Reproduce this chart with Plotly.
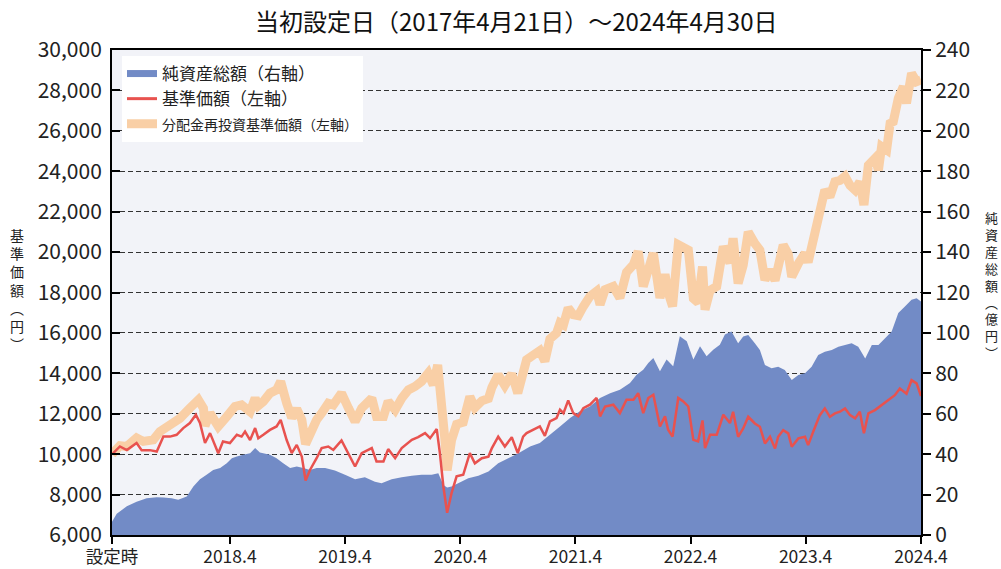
import plotly.graph_objects as go

# ---------------- data ----------------
# 基準価額 (left axis, 円)
base_dates = [
    "2017-04-21", "2017-04-25", "2017-05-16", "2017-06-07", "2017-07-08", "2017-07-24", "2017-08-19",
    "2017-09-10", "2017-10-01", "2017-10-22", "2017-11-12", "2017-12-03", "2017-12-24",
    "2018-01-12", "2018-01-25", "2018-02-10", "2018-02-26", "2018-03-24", "2018-04-08", "2018-04-30",
    "2018-05-22", "2018-06-06", "2018-06-17", "2018-07-03", "2018-07-19", "2018-07-29", "2018-08-14",
    "2018-09-04", "2018-09-25", "2018-10-08", "2018-10-27", "2018-11-12", "2018-11-28", "2018-12-14",
    "2018-12-26", "2019-01-09", "2019-01-30",
    "2019-02-15", "2019-03-08", "2019-03-24", "2019-04-19", "2019-05-11", "2019-06-01", "2019-06-22",
    "2019-07-24", "2019-08-08", "2019-08-30", "2019-09-14", "2019-10-06", "2019-10-27", "2019-11-28",
    "2019-12-18", "2020-01-09", "2020-01-25", "2020-02-15", "2020-02-25", "2020-03-07", "2020-03-19",
    "2020-04-02", "2020-04-18", "2020-05-09", "2020-05-30", "2020-06-15", "2020-07-07", "2020-07-28",
    "2020-08-08", "2020-08-28", "2020-09-18", "2020-10-10", "2020-10-29",
    "2020-11-15", "2020-11-26", "2020-12-17", "2021-01-07", "2021-01-23", "2021-02-08", "2021-03-01",
    "2021-03-12", "2021-03-23", "2021-04-07", "2021-04-23", "2021-05-09", "2021-05-25", "2021-06-15",
    "2021-07-06", "2021-07-17", "2021-08-02", "2021-08-28", "2021-09-18", "2021-10-09", "2021-10-31",
    "2021-11-15", "2021-12-01", "2021-12-17", "2022-01-02", "2022-01-23", "2022-02-08", "2022-02-18",
    "2022-03-04", "2022-03-22", "2022-04-07", "2022-04-23", "2022-05-09", "2022-05-24", "2022-06-07",
    "2022-06-15", "2022-07-01", "2022-07-22", "2022-08-12", "2022-09-02",
    "2022-09-12", "2022-09-28", "2022-10-14", "2022-10-30", "2022-11-20", "2022-12-06", "2022-12-22",
    "2023-01-07", "2023-01-23", "2023-02-02", "2023-02-18", "2023-03-06", "2023-03-17", "2023-04-07",
    "2023-04-28", "2023-05-08", "2023-05-24", "2023-06-14", "2023-06-30", "2023-07-16", "2023-08-01",
    "2023-08-17", "2023-09-02", "2023-09-18", "2023-10-04", "2023-10-19", "2023-11-01", "2023-11-15",
    "2023-12-06", "2023-12-27", "2024-01-17", "2024-02-07", "2024-02-23", "2024-03-15", "2024-03-31",
    "2024-04-16", "2024-04-30",
]
base_values = [
    10000, 10050, 10380, 10200, 10550, 10200, 10200,
    10130, 10870, 10870, 10960, 11290, 11540,
    11950, 11540, 10550, 11040, 10050, 10630, 10550,
    10960, 10870, 11120, 10700, 11290, 10790, 10960,
    11200, 11370, 11700, 10700, 10050, 10460, 9880,
    8700, 9220, 9800,
    10300, 10380, 10210, 10680, 10050, 9390, 10050,
    10300, 9640, 9640, 10250, 9800, 10300, 10710,
    10840, 11040, 10790, 11240, 10050, 8400, 7100,
    8070, 8900, 8980, 10050, 9550, 9800, 9880,
    10300, 10870, 10380, 10840, 10050,
    10870, 11040, 11210, 11370, 10910, 11620, 11790,
    12200, 12030, 12660, 12030, 11870, 12280, 12450,
    12780, 11870, 12360, 12450, 12030, 12690, 12690,
    13020, 12030, 12780, 12940, 11370, 11870, 11210,
    10870, 12780, 12610, 12360, 10710, 10630, 11670,
    10300, 10960, 10960, 11950, 11540,
    12100, 10860, 11270, 11850, 11520, 11360, 10530,
    10860, 10280, 10860, 11190, 11030, 10370, 10780,
    10860, 10450, 11110, 11930, 12260, 11850, 12020,
    12100, 12260, 11930, 11770, 12100, 11030, 12020,
    12180, 12430, 12680, 12920, 13250, 12990, 13660,
    13500, 12880,
]

# 分配金再投資基準価額 (left axis, 円)
reinv_dates = [
    "2017-04-21", "2017-05-16", "2017-06-07", "2017-07-08", "2017-07-29", "2017-08-30", "2017-09-20",
    "2017-10-22", "2017-11-23", "2017-12-24", "2018-01-20", "2018-02-05", "2018-02-10", "2018-02-26",
    "2018-03-24", "2018-04-20", "2018-05-16", "2018-06-06", "2018-06-22", "2018-07-03", "2018-07-19",
    "2018-07-29", "2018-08-14", "2018-09-04", "2018-09-25", "2018-10-08", "2018-10-27", "2018-11-12",
    "2018-11-28", "2018-12-14", "2018-12-26", "2019-01-09", "2019-01-30",
    "2019-02-15", "2019-03-08", "2019-03-24", "2019-04-19", "2019-05-11", "2019-06-01", "2019-06-22",
    "2019-07-24", "2019-08-08", "2019-08-30", "2019-09-14", "2019-10-06", "2019-10-27", "2019-11-17",
    "2019-12-08", "2019-12-29", "2020-01-19", "2020-02-04", "2020-02-18", "2020-03-02", "2020-03-12",
    "2020-03-19", "2020-04-02", "2020-04-18", "2020-05-09", "2020-05-30", "2020-06-15", "2020-07-07",
    "2020-07-28", "2020-08-08", "2020-08-28", "2020-09-18", "2020-10-10", "2020-10-29",
    "2020-11-15", "2020-11-26", "2020-12-17", "2021-01-07", "2021-01-23", "2021-02-08", "2021-03-01",
    "2021-03-12", "2021-03-23", "2021-04-07", "2021-04-23", "2021-05-09", "2021-05-25", "2021-06-15",
    "2021-07-06", "2021-07-17", "2021-08-02", "2021-08-28", "2021-09-18", "2021-10-09", "2021-10-31",
    "2021-11-15", "2021-12-01", "2021-12-17", "2022-01-02", "2022-01-23", "2022-02-08", "2022-02-18",
    "2022-03-04", "2022-03-22", "2022-04-07", "2022-04-23", "2022-05-09", "2022-05-24", "2022-06-07",
    "2022-06-15", "2022-07-01", "2022-07-22", "2022-08-12", "2022-09-02",
    "2022-09-12", "2022-09-28", "2022-10-14", "2022-10-30", "2022-11-20", "2022-12-06", "2022-12-22",
    "2023-01-07", "2023-01-23", "2023-02-02", "2023-02-18", "2023-03-06", "2023-03-17", "2023-04-07",
    "2023-04-28", "2023-05-08", "2023-05-24", "2023-06-14", "2023-06-30", "2023-07-16", "2023-08-01",
    "2023-08-17", "2023-09-02", "2023-09-18", "2023-10-04", "2023-10-19", "2023-11-01", "2023-11-15",
    "2023-12-06", "2023-12-17", "2023-12-27", "2024-01-12", "2024-01-23", "2024-02-02", "2024-02-18",
    "2024-03-05", "2024-03-15", "2024-03-31", "2024-04-16", "2024-04-30",
]
reinv_values = [
    10000, 10420, 10380, 10800, 10630, 10710, 11120,
    11450, 11780, 12280, 12690, 12280, 11400, 12030,
    11370, 11860, 12360, 12440, 12190, 12100, 12770,
    12400, 12600, 13020, 13180, 13600, 12520, 11800,
    12240, 11700, 10500, 11060, 11700,
    12030, 12520, 12440, 13020, 12280, 11620, 12280,
    12770, 11860, 11860, 12610, 12190, 12770, 13180,
    13350, 13600, 14010, 13430, 14420, 12690, 10710,
    9200, 10700, 11480, 11580, 12850, 12300, 12640,
    12750, 13300, 13930, 13400, 13980, 13020,
    14340, 14670, 14900, 15120, 14600, 15700, 15990,
    16500, 16400, 17230, 16900, 16850, 17310, 17810,
    18060, 17400, 18140, 18300, 17730, 19000, 19380,
    20040, 18300, 19300, 19950, 17730, 18900, 18000,
    17310, 20370, 20200, 20100, 17700, 17500, 19290,
    17150, 18100, 18300, 20280, 19460,
    20680, 18450, 19350, 21000, 20430, 20100, 18620,
    19110, 18600, 19440, 20350, 19900, 18780, 19440,
    19940, 19500, 20700, 22300, 23070, 22740, 23480,
    23550, 23750, 23300, 23070, 23480, 22330, 24300,
    24640, 24060, 25220, 25050, 26370, 26450, 27610,
    28190, 27360, 28850, 28430, 28520,
]

# 純資産総額 (right axis, 億円)
nav_dates = [
    "2017-04-21", "2017-05-06", "2017-06-07", "2017-07-08", "2017-08-09", "2017-09-10", "2017-10-01",
    "2017-10-27", "2017-11-17", "2017-12-14", "2018-01-04", "2018-01-25", "2018-02-15", "2018-03-08",
    "2018-03-30", "2018-04-20", "2018-05-06", "2018-05-22", "2018-06-11", "2018-07-03", "2018-07-19",
    "2018-08-03", "2018-09-04", "2018-09-25", "2018-10-16", "2018-11-07", "2018-11-28", "2018-12-19",
    "2019-01-09", "2019-01-30", "2019-02-26", "2019-03-29", "2019-04-30", "2019-06-01", "2019-07-02",
    "2019-08-03", "2019-08-24", "2019-09-25", "2019-10-27", "2019-11-28", "2019-12-29", "2020-01-30",
    "2020-02-20", "2020-03-07", "2020-03-19", "2020-04-02", "2020-04-23", "2020-05-25", "2020-06-26",
    "2020-07-28", "2020-08-28", "2020-09-29", "2020-10-31", "2020-12-07", "2021-01-07", "2021-02-08",
    "2021-03-12", "2021-04-13", "2021-05-14", "2021-06-15", "2021-07-17", "2021-08-18", "2021-09-18",
    "2021-10-20", "2021-11-10", "2021-12-01", "2021-12-17", "2022-01-02", "2022-01-23", "2022-02-13",
    "2022-03-06", "2022-03-27", "2022-04-18", "2022-05-09", "2022-05-30", "2022-06-20", "2022-07-11",
    "2022-08-01", "2022-08-17", "2022-09-07", "2022-09-28", "2022-10-14", "2022-10-30", "2022-11-20",
    "2022-12-06", "2022-12-22", "2023-01-12", "2023-02-02", "2023-02-23", "2023-03-17", "2023-04-07",
    "2023-04-28", "2023-05-19", "2023-06-09", "2023-06-30", "2023-07-22", "2023-08-12", "2023-09-02",
    "2023-09-23", "2023-10-14", "2023-11-05", "2023-11-26", "2023-12-17", "2024-01-07", "2024-01-28",
    "2024-02-18", "2024-03-10", "2024-03-31", "2024-04-16", "2024-04-30",
]
nav_values = [
    6.5, 10.5, 14.2, 16.5, 18.2, 18.7, 18.5,
    18.2, 17.4, 19.0, 24.0, 27.6, 29.8, 32.2,
    33.1, 35.5, 38.0, 38.8, 39.7, 40.5, 43.0,
    40.8, 39.7, 38.0, 35.5, 33.1, 33.9, 33.1,
    32.2, 33.1, 33.1, 31.9, 29.8, 27.6, 28.6,
    26.4, 25.6, 27.6, 28.6, 29.3, 29.8, 29.8,
    30.6, 24.8, 23.5, 24.0, 25.6, 28.1, 29.3,
    31.4, 35.5, 38.0, 40.5, 43.8, 45.5, 49.6,
    53.7, 57.9, 61.2, 63.6, 67.8, 70.2, 71.9,
    75.2, 79.3, 81.8, 85.1, 87.6, 81.0, 86.8,
    83.5, 98.3, 95.9, 86.8, 93.4, 88.4, 91.7,
    94.2, 99.2, 100.7, 94.9, 98.2, 99.0, 94.9,
    91.6, 84.1, 82.5, 83.3, 81.7, 76.7, 79.2,
    80.0, 83.3, 89.1, 90.7, 91.6, 93.2, 94.0,
    94.9, 93.2, 87.4, 94.0, 94.0, 97.4, 100.7,
    109.8, 113.1, 116.4, 117.2, 115.5,
]

x_tick_dates = ["2017-04-21", "2018-04-30", "2019-04-30", "2020-04-30",
                "2021-04-30", "2022-04-30", "2023-04-30", "2024-04-30"]
x_tick_labels = ["設定時", "2018.4", "2019.4", "2020.4", "2021.4", "2022.4", "2023.4", "2024.4"]

title_text = "当初設定日（2017年4月21日）～2024年4月30日"
left_title_chars = ["基", "準", "価", "額", "︵", "円", "︶"]
right_title_chars = ["純", "資", "産", "総", "額", "︵", "億", "円", "︶"]
legend_names = ["純資産総額（右軸）", "基準価額（左軸）", "分配金再投資基準価額（左軸）"]

# ---------------- style ----------------
FONT = "Noto Sans CJK JP"
BLUE = "#728BC6"
RED = "#E8524F"
ORANGE = "#F9CFA6"
TXT = "#222222"

W, H = 1001, 569
L, R, T, B = 112, 80, 50, 34
PW, PH = W - L - R, H - T - B


def px(x):
    return (x - L) / PW


def py(y):
    return (H - B - y) / PH


fig = go.Figure()

fig.add_trace(go.Scatter(
    x=nav_dates, y=nav_values, yaxis="y", mode="none", fill="tozeroy",
    fillcolor=BLUE, showlegend=False, hoverinfo="skip"))
fig.add_trace(go.Scatter(
    x=reinv_dates, y=reinv_values, yaxis="y2", mode="lines",
    line=dict(color=ORANGE, width=9), showlegend=False))
fig.add_trace(go.Scatter(
    x=base_dates, y=base_values, yaxis="y2", mode="lines",
    line=dict(color=RED, width=2.5), showlegend=False))

# legend entries
fig.add_trace(go.Scatter(x=[None], y=[None], yaxis="y2", mode="lines",
                         line=dict(color=BLUE, width=7), name=legend_names[0]))
fig.add_trace(go.Scatter(x=[None], y=[None], yaxis="y2", mode="lines",
                         line=dict(color=RED, width=3), name=legend_names[1]))
fig.add_trace(go.Scatter(x=[None], y=[None], yaxis="y2", mode="lines",
                         line=dict(color=ORANGE, width=9),
                         name="<span style='font-size:14px'>" + legend_names[2] + "</span>"))

annotations = [dict(
    text=title_text, xref="paper", yref="paper", x=px(516), y=py(20),
    xanchor="center", yanchor="middle", showarrow=False,
    font=dict(family=FONT, size=24, color="#111111"))]

annotations.append(dict(
    text="<br>".join(left_title_chars), xref="paper", yref="paper",
    x=px(17), y=py(289), xanchor="center", yanchor="middle", showarrow=False,
    font=dict(family=FONT, size=14, color=TXT)))
annotations.append(dict(
    text="<br>".join(right_title_chars), xref="paper", yref="paper",
    x=px(991), y=py(285), xanchor="center", yanchor="middle", showarrow=False,
    font=dict(family=FONT, size=13, color=TXT)))

fig.update_layout(
    width=W, height=H,
    margin=dict(l=L, r=R, t=T, b=B, pad=0, autoexpand=False),
    paper_bgcolor="white",
    plot_bgcolor="#F2F3F8",
    font=dict(family=FONT, color=TXT),
    showlegend=True,
    legend=dict(
        x=px(122), y=py(56), xanchor="left", yanchor="top",
        bgcolor="white", borderwidth=0,
        font=dict(family=FONT, size=17, color=TXT),
        traceorder="normal", itemwidth=30,
    ),
    xaxis=dict(
        type="date", range=["2017-04-21", "2024-04-30"],
        tickmode="array", tickvals=x_tick_dates, ticktext=x_tick_labels,
        ticks="outside", ticklen=7, tickwidth=1.5, tickcolor="black",
        ticklabelstandoff=-2,
        showline=True, linecolor="black", linewidth=2, mirror=True,
        showgrid=False, zeroline=False, automargin=False,
        tickfont=dict(family=FONT, size=17.5, color=TXT),
    ),
    yaxis=dict(
        side="right", range=[0, 240], dtick=20, tick0=0,
        ticks="outside", ticklen=8, tickwidth=1.5, tickcolor="black",
        showline=True, linecolor="black", linewidth=2,
        showgrid=True, gridcolor="#333333", gridwidth=1, griddash="5px,3px",
        zeroline=False, automargin=False,
        tickfont=dict(family=FONT, size=21, color=TXT),
    ),
    yaxis2=dict(
        overlaying="y", side="left", range=[6000, 30000], dtick=2000, tick0=6000,
        tickformat=",d",
        ticks="inside", ticklen=8, tickwidth=1.5, tickcolor="black",
        ticklabelstandoff=4,
        showline=True, linecolor="black", linewidth=2,
        showgrid=False, zeroline=False, automargin=False,
        tickfont=dict(family=FONT, size=21, color=TXT),
    ),
    annotations=annotations,
)

fig.write_html("out.html", config={"displayModeBar": False},
               post_script="document.body.style.margin='0';document.body.style.overflow='hidden';")
